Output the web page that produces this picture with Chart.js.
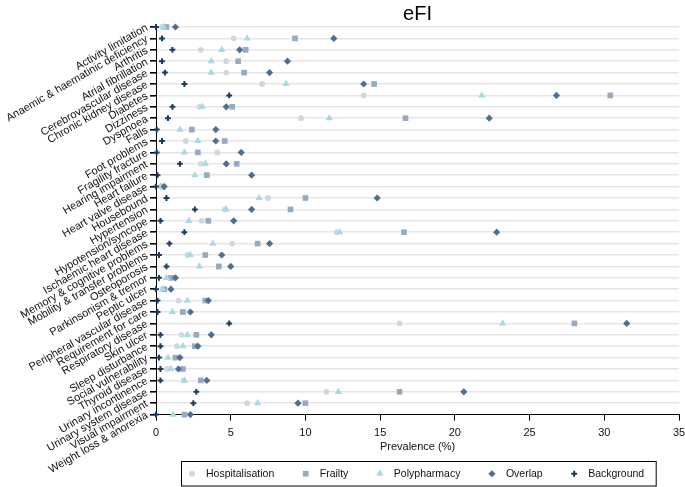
<!DOCTYPE html>
<html>
<head>
<meta charset="utf-8">
<script src="https://cdn.jsdelivr.net/npm/chart.js@4/dist/chart.umd.min.js"></script>
<style>
  html, body { margin: 0; padding: 0; background: #fff; }
</style>
</head>
<body>
<canvas id="chart-efi" width="685" height="487"></canvas>
<script>
const categories = [
    'Activity limitation', 'Anaemic & haematinic deficiency', 'Arthritis', 'Atrial fibrillation',
    'Cerebrovascular disease', 'Chronic kidney disease', 'Diabetes', 'Dizziness', 'Dyspnoea', 'Falls',
    'Foot problems', 'Fragility fracture', 'Hearing impairment', 'Heart failure', 'Heart valve disease',
    'Housebound', 'Hypertension', 'Hypotension/syncope', 'Ischaemic heart disease',
    'Memory & cognitive problems', 'Mobility & transfer problems', 'Osteoporosis', 'Parkinsonism & tremor',
    'Peptic ulcer', 'Peripheral vascular disease', 'Requirement for care', 'Respiratory disease',
    'Skin ulcer', 'Sleep disturbance', 'Social vulnerability', 'Thyroid disease', 'Urinary incontinence',
    'Urinary system disease', 'Visual impairment', 'Weight loss & anorexia'
];

const hospitalisation = [0.4, 5.2, 3.0, 4.7, 4.7, 7.1, 13.9, 2.9, 9.7, 2.4, 2.0, 4.1, 3.0, 3.4, 0.35,
    7.5, 4.6, 3.05, 12.1, 5.1, 2.1, 4.2, 1.0, 0.45, 1.5, 1.8, 16.3, 1.7, 1.4, 1.3, 0.75, 1.85, 11.4, 6.1, 1.9];
const frailty = [0.7, 9.3, 6.0, 5.5, 5.9, 14.6, 30.4, 5.1, 16.7, 2.4, 4.6, 2.8, 5.4, 3.4, 0.45,
    10.0, 9.0, 3.5, 16.6, 6.8, 3.3, 4.2, 1.0, 0.55, 3.3, 1.8, 28.0, 2.7, 2.6, 1.3, 1.8, 3.0, 16.3, 10.0, 1.9];
const polypharmacy = [0.5, 6.1, 4.4, 3.7, 3.7, 8.7, 21.8, 3.1, 11.6, 1.6, 2.8, 1.9, 3.3, 2.6, 0.3,
    6.9, 4.7, 2.2, 12.3, 3.8, 2.3, 2.9, 0.7, 0.45, 2.1, 1.1, 23.2, 2.1, 1.8, 0.8, 1.0, 1.9, 12.2, 6.8, 1.15];
const overlap = [1.3, 11.9, 5.6, 8.8, 7.6, 13.9, 26.8, 4.7, 22.3, 4.0, 4.0, 5.7, 4.7, 6.4, 0.55,
    14.8, 6.4, 5.2, 22.8, 7.6, 4.4, 5.0, 1.3, 1.0, 3.5, 2.3, 31.5, 3.7, 2.8, 1.6, 1.5, 3.4, 20.6, 9.5, 2.3];
const background = [0.0, 0.4, 1.1, 0.4, 0.6, 1.9, 4.9, 1.1, 0.8, 0.05, 0.4, 0.05, 1.6, 0.1, 0.0,
    0.7, 2.6, 0.3, 1.9, 0.9, 0.2, 0.7, 0.2, 0.0, 0.1, 0.1, 4.9, 0.3, 0.3, 0.2, 0.3, 0.3, 2.7, 2.5, 0.0];

const xTicks = [0, 5, 10, 15, 20, 25, 30, 35];

const FONT = '"Liberation Sans", Arial, Helvetica, sans-serif';
const TEXT = '#111';

// marker look per series, legend order
const series = [
    { label: 'Hospitalisation', values: hospitalisation, pointStyle: 'circle', radius: 2.9, color: '#cfd8e1', order: 5 },
    { label: 'Frailty', values: frailty, pointStyle: 'rect', radius: 4, color: '#98aabd', order: 4 },
    { label: 'Polypharmacy', values: polypharmacy, pointStyle: 'triangle', radius: 4.2, color: '#a9d9e5', order: 3 },
    { label: 'Overlap', values: overlap, pointStyle: 'rectRot', radius: 3.6, color: '#4e6f91', order: 2 },
    { label: 'Background', values: background, pointStyle: 'cross', radius: 2.9, color: '#1d3a5e', order: 1 }
];

const datasets = series.map(s => ({
    label: s.label,
    data: s.values.map((v, i) => ({ x: v, y: categories[i] })),
    pointStyle: s.pointStyle,
    pointRadius: s.radius,
    pointHoverRadius: s.radius,
    backgroundColor: s.color,
    borderColor: s.color,
    pointBorderWidth: s.pointStyle === 'cross' ? 2 : 0,
    order: s.order,
    clip: false
}));

const titlePlugin = {
    id: 'efiTitle',
    afterDraw(chart) {
        const { ctx, chartArea } = chart;
        ctx.save();
        ctx.fillStyle = '#000';
        ctx.font = '20px ' + FONT;
        ctx.textAlign = 'center';
        ctx.textBaseline = 'middle';
        ctx.fillText('eFI', (chartArea.left + chartArea.right) / 2, 14);
        ctx.restore();
    }
};

// boxed legend under the axis title
const legendBoxPlugin = {
    id: 'legendBox',
    afterDraw(chart) {
        const { ctx, chartArea } = chart;
        ctx.save();
        ctx.font = '10.5px ' + FONT;
        const widths = series.map(s => ctx.measureText(s.label).width);
        const padL = 10.5, toText = 14, gap = 31.5, padR = 12;
        const total = padL + widths.reduce((a, w) => a + toText + w, 0) + gap * (series.length - 1) + padR;
        const left = Math.round((chartArea.left + chartArea.right) / 2 + 1 - total / 2) + 0.5;
        const top = 461.5, h = 24.5;
        ctx.strokeStyle = '#000';
        ctx.lineWidth = 1;
        ctx.strokeRect(left, top, total, h);
        const cy = top + h / 2;
        let x = left + padL;
        series.forEach((s, i) => {
            ctx.fillStyle = s.color;
            ctx.strokeStyle = s.color;
            ctx.lineWidth = s.pointStyle === 'cross' ? 2 : 0;
            Chart.helpers.drawPoint(ctx, {
                pointStyle: s.pointStyle, radius: s.radius, rotation: 0,
                borderWidth: s.pointStyle === 'cross' ? 2 : 0
            }, x, cy);
            ctx.fillStyle = TEXT;
            ctx.textAlign = 'left';
            ctx.textBaseline = 'middle';
            ctx.fillText(s.label, x + toText, cy + 0.5);
            x += toText + widths[i] + gap;
        });
        ctx.restore();
    }
};

new Chart(document.getElementById('chart-efi').getContext('2d'), {
    type: 'scatter',
    data: { datasets },
    options: {
        responsive: false,
        animation: false,
        layout: { padding: { top: 27, bottom: 31, left: 0, right: 6 } },
        plugins: { legend: { display: false }, tooltip: { enabled: false } },
        scales: {
            x: {
                type: 'linear',
                min: 0,
                max: 35,
                afterBuildTicks: s => { s.ticks = xTicks.map(v => ({ value: v })); },
                afterFit: s => { s.paddingRight = 0; },
                grid: { drawOnChartArea: false, drawTicks: true, tickLength: 6, color: '#000', tickColor: '#000' },
                border: { display: true, color: '#000', width: 1 },
                ticks: { padding: 6, color: TEXT, maxRotation: 0, font: { family: FONT, size: 11 } },
                title: {
                    display: true, text: 'Prevalence (%)', color: TEXT,
                    font: { family: FONT, size: 11 }, padding: { top: -5.5, bottom: 2.5 }
                }
            },
            y: {
                type: 'category',
                labels: categories,
                offset: false,
                grid: {
                    color: c => c.index === categories.length - 1 ? 'rgba(0,0,0,0)' : '#e6e6e6',
                    lineWidth: 1.6,
                    tickColor: '#000',
                    tickLength: 6,
                    drawTicks: true
                },
                border: { display: true, color: '#000', width: 1 },
                ticks: {
                    autoSkip: false, minRotation: 30, maxRotation: 30, padding: 3,
                    color: TEXT, font: { family: FONT, size: 11 }
                },
                afterFit: s => { s.width = 156; }
            }
        }
    },
    plugins: [titlePlugin, legendBoxPlugin]
});
</script>
</body>
</html>
